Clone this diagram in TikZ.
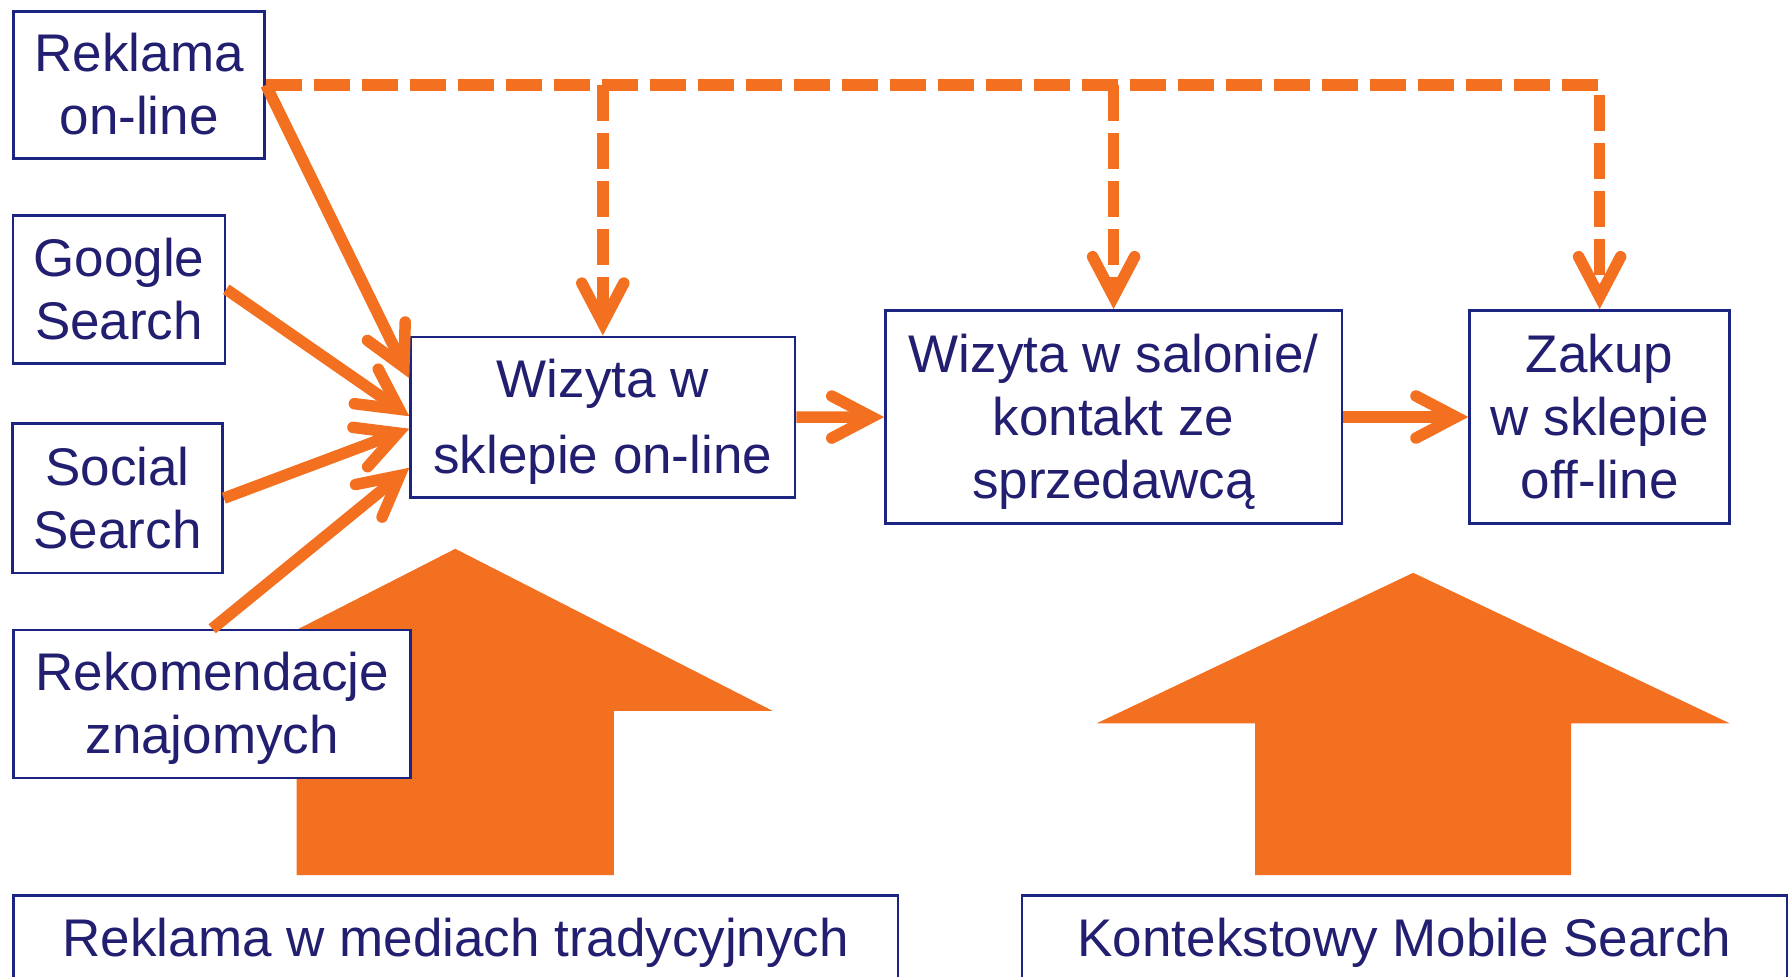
\documentclass[tikz,border=0pt]{standalone}
\usepackage{fontspec}
\setmainfont{Liberation Sans}
\usetikzlibrary{arrows.meta,calc}
\definecolor{brandorange}{RGB}{243,112,33}
\definecolor{inknavy}{RGB}{34,30,112}
\definecolor{framenavy}{RGB}{28,36,130}
% strut giving a line the ascent and descent of the 53pt face
\newcommand\linestrut{\rule[-11.2pt]{0pt}{59.2pt}}
\tikzset{
  box/.style={draw=framenavy, line width=2.5pt, fill=white, text=inknavy,
    align=center, inner sep=0pt, font=\fontsize{53}{63}\selectfont,
    execute at end node=\linestrut},
  footbox/.style={box, anchor=base, inner ysep=12.3pt, text depth=40pt},
  flow/.style={draw=brandorange, line width=11.5pt,
    -{Straight Barb[length=40pt,width=42pt,line cap=round,line join=miter]}},
  cue/.style={flow, dash pattern=on 36pt off 12pt},
  bigarrow/.style={fill=brandorange, draw=none},
}
\begin{document}
\begin{tikzpicture}[x=1pt,y=-1pt]
\clip (0,0) rectangle (1789,977);

% broad upward arrows behind the boxes
\path[bigarrow] (455.3,548.8) -- (772.5,710.8) -- (613.9,710.8) -- (613.9,875.2)
  -- (296.7,875.2) -- (296.7,710.8) -- (138.1,710.8) -- cycle;
\path[bigarrow] (1413.2,572.8) -- (1729.8,723.4) -- (1571.2,723.4) -- (1571.2,875.2)
  -- (1255.1,875.2) -- (1255.1,723.4) -- (1096.5,723.4) -- cycle;

% sources
\node[box, minimum width=251pt, minimum height=147.2pt] (rek) at (139.2,85)
  {\linestrut Reklama\\on-line};
\node[box, minimum width=212pt, minimum height=148pt] (goo) at (119,289.3)
  {\linestrut Google\\Search};
\node[box, minimum width=210pt, minimum height=149.3pt] (soc) at (117.6,498.2)
  {\linestrut Social\\Search};
\node[box, minimum width=397pt, minimum height=148pt] (rkm) at (212.2,704)
  {\linestrut Rekomendacje\\znajomych};

% purchase path
\node[box, font=\fontsize{53}{76}\selectfont, minimum width=384.4pt, minimum height=160.7pt]
  (wiz) at (602.8,417.1) {\linestrut Wizyta w\\sklepie on-line};
\node[box, minimum width=456.4pt, minimum height=213.3pt] (sal) at (1113.6,417)
  {\linestrut Wizyta w salonie/\\kontakt ze\\sprzedawcą};
\node[box, minimum width=260pt, minimum height=213.3pt] (zak) at (1599.6,417)
  {\linestrut Zakup\\w sklepie\\off-line};

% channels at the bottom
\node[footbox, minimum width=884.3pt] (trad) at (455.85,956)
  {\linestrut Reklama w mediach tradycyjnych};
\node[footbox, minimum width=765pt] (kon) at (1404.5,956)
  {\linestrut Kontekstowy Mobile Search};

% sources into the online shop
\draw[flow] (rek.east) -- ($(wiz.north west)!0.262!(wiz.south west)$);
\draw[flow] (goo.east) -- ($(wiz.north west)!0.495!(wiz.south west)$);
\draw[flow] (soc.east) -- ($(wiz.north west)!0.571!(wiz.south west)$);
\draw[flow] (rkm.north) -- ($(wiz.north west)!0.810!(wiz.south west)$);

% main path
\draw[flow] (wiz) -- (sal);
\draw[flow] (sal) -- (zak);

% online advertising reaching every stage
\draw[cue] (rek.east) -| (zak.north);
\draw[cue] (wiz.north |- rek.east) -- (wiz.north);
\draw[cue] (sal.north |- rek.east) -- (sal.north);
\end{tikzpicture}
\end{document}
